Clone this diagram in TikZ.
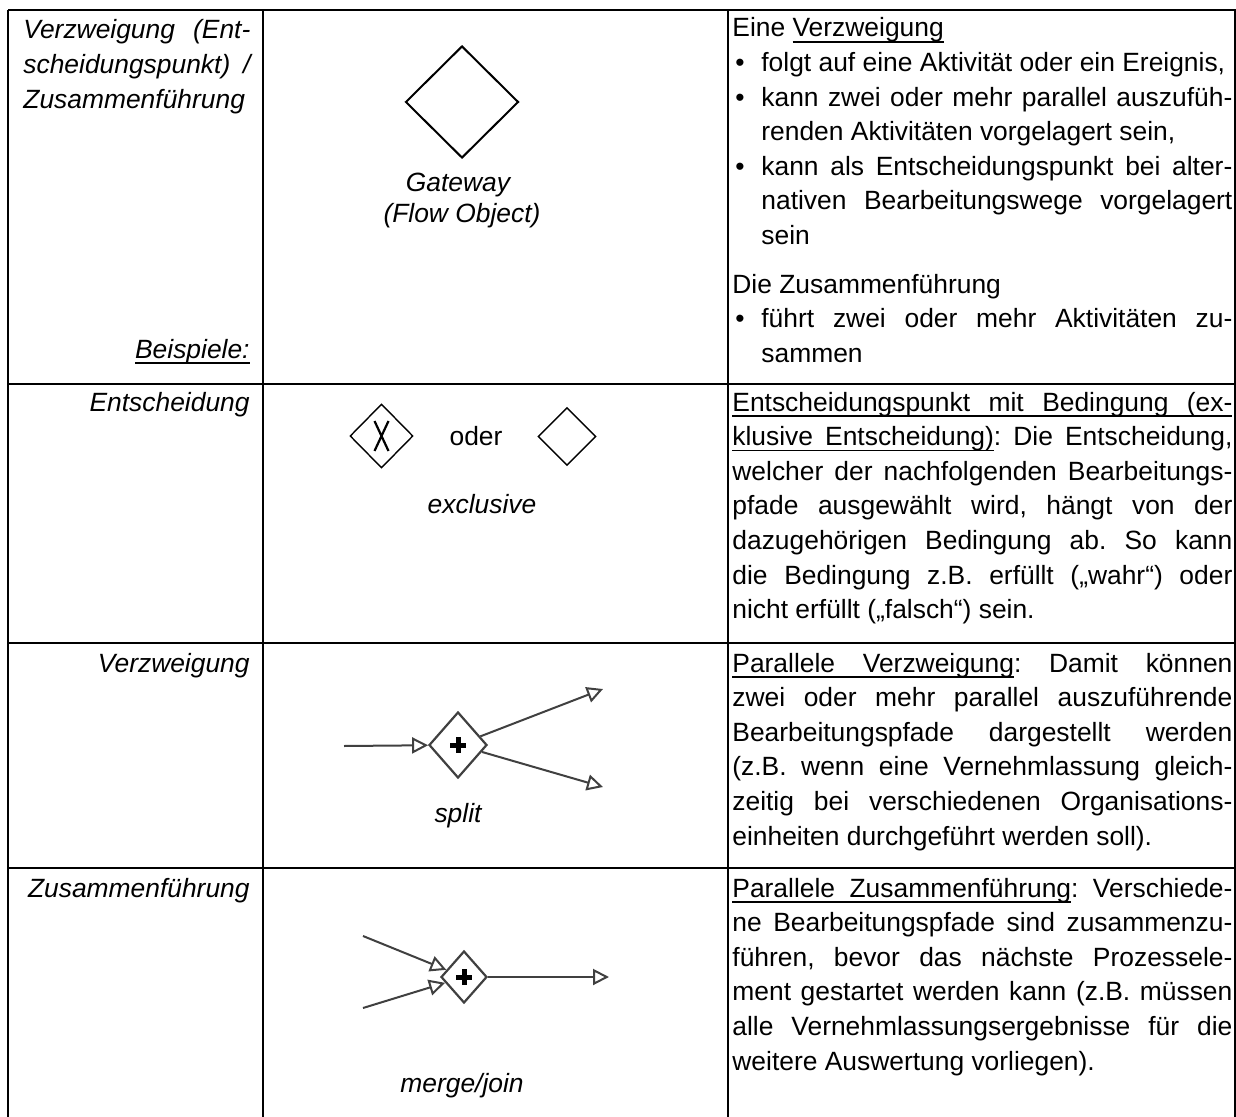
\documentclass[tikz,border=0pt]{standalone}
\usepackage{fontspec}
\setmainfont{Liberation Sans}
\usetikzlibrary{shapes.geometric,arrows.meta}
\frenchspacing
\hyphenpenalty=10000
\exhyphenpenalty=10000
% underlined word and underlined (stretchable) space
\newsavebox\ulbox
\newcommand\ulw[1]{\sbox\ulbox{#1}\rlap{\vrule height -2.2pt depth 2.85pt width \wd\ulbox}\usebox\ulbox}
\newcommand\uls{\leaders\hrule height -2.2pt depth 2.85pt\hskip\fontdimen2\font plus\fontdimen3\font minus\fontdimen4\font}
\newcommand\gwitem{\par\hangindent=14.5pt\hangafter=1\noindent\hspace*{1.5pt}\makebox[13pt][l]{\textbullet}}

\begin{document}
\begin{tikzpicture}[x=0.5pt,y=-0.5pt,
    every node/.style={inner sep=0pt,font=\fontsize{13.2}{17.3}\selectfont},
    it/.style={font=\fontsize{13.2}{17.3}\selectfont\itshape},
    cell/.style={anchor=base west,align=justify,text width=250pt},
    grid/.style={line width=0.8pt},
    gw/.style={draw,diamond,line width=0.7pt},
    flow/.style={draw=black!75,line width=1pt,-{Triangle[open,length=8pt,width=8pt]}}]
\useasboundingbox (0,0) rectangle (1236,1117);
% table
\foreach \y in {10,384,643,868}
  \draw[grid] (8,\y) -- (1236,\y);
\foreach \x in {8,263,728,1235}
  \draw[grid] (\x,10) -- (\x,1117);

% left column
\node[it,anchor=base west,align=justify,text width=113.5pt] (kind) at (23,39)
  {Verzweigung (Ent-\linebreak scheidungspunkt) /\linebreak Zusammenführung};
\node[it,anchor=base east] (bsp) at (250,358) {\ulw{Beispiele:}};
\node[it,anchor=base east] (entlbl) at (250,411) {Entscheidung};
\node[it,anchor=base east] (verlbl) at (250,672) {Verzweigung};
\node[it,anchor=base east] (zuslbl) at (250,897) {Zusammenführung};

% middle column
\node[gw,line width=1pt,minimum width=56.5pt,minimum height=56pt] (gate) at (462,102) {};
\node[it,anchor=base] (gatelbl) at (458,192) {Gateway};
\node[it,anchor=base] (flowlbl) at (462,223) {(Flow Object)};

\node[gw,minimum width=31.5pt,minimum height=32pt] (xor) at (381.5,436) {};
\draw[line width=1.1pt] (xor.center) ++(-7,-15) -- ++(14,30) ++(0,-30) -- ++(-14,30);
\node[anchor=base] (oder) at (476,445) {oder};
\node[gw,minimum width=29pt,minimum height=29pt] (xorb) at (567,436.5) {};
\node[it,anchor=base] (xlbl) at (482,513) {exclusive};

\node[gw,draw=black!75,line width=1.1pt,minimum width=29pt,minimum height=33pt] (spl) at (458,745) {};
\draw[line width=2.5pt] (spl.center) ++(-8,0) -- ++(16,0) (spl.center) ++(0,-8) -- ++(0,16);
\coordinate (splin) at (344,746);
\coordinate (splup) at (603,689);
\coordinate (spldn) at (603,787);
\draw[flow] (splin) -- (spl);
\draw[flow] (spl) -- (splup);
\draw[flow] (spl) -- (spldn);
\node[it,anchor=base] (slbl) at (458,822) {split};

\node[gw,draw=black!75,line width=1.1pt,minimum width=23pt,minimum height=26pt] (mrg) at (464,977) {};
\draw[line width=2.5pt] (mrg.center) ++(-8,0) -- ++(16,0) (mrg.center) ++(0,-8) -- ++(0,16);
\coordinate (mrgup) at (363,936);
\coordinate (mrgdn) at (363,1008);
\coordinate (mrgout) at (609,977);
\draw[flow] (mrgup) -- (mrg);
\draw[flow] (mrgdn) -- (mrg);
\draw[flow] (mrg) -- (mrgout);
\node[it,anchor=base] (mlbl) at (462,1092) {merge/join};

% right column
\node[cell] (txtgw) at (732,37) {Eine \ulw{Verzweigung}
  \gwitem folgt auf eine Aktivität oder ein Ereignis,
  \gwitem kann zwei oder mehr parallel auszufüh-\linebreak renden Aktivitäten vorgelagert sein,
  \gwitem kann als Entscheidungspunkt bei alter-\linebreak nativen Bearbeitungswege vorgelagert\linebreak sein
  \par\vspace{7pt}\noindent Die Zusammenführung
  \gwitem führt zwei oder mehr Aktivitäten zu-\linebreak sammen\par};
\node[cell] (txtxor) at (732,411) {\ulw{Entscheidungspunkt}\uls\ulw{mit}\uls\ulw{Bedingung}\uls\ulw{(ex-}\linebreak
  \ulw{klusive}\uls\ulw{Entscheidung)}: Die Entscheidung,\linebreak
  welcher der nachfolgenden Bearbeitungs-\linebreak
  pfade ausgewählt wird, hängt von der\linebreak
  dazugehörigen Bedingung ab. So kann\linebreak
  die Bedingung z.B. erfüllt („wahr“) oder\linebreak
  nicht erfüllt („falsch“) sein.};
\node[cell] (txtspl) at (732,672) {\ulw{Parallele}\uls\ulw{Verzweigung}: Damit können\linebreak
  zwei oder mehr parallel auszuführende\linebreak
  Bearbeitungspfade dargestellt werden\linebreak
  (z.B. wenn eine Vernehmlassung gleich-\linebreak
  zeitig bei verschiedenen Organisations-\linebreak
  einheiten durchgeführt werden soll).};
\node[cell] (txtmrg) at (732,897) {\ulw{Parallele}\uls\ulw{Zusammenführung}: Verschiede-\linebreak
  ne Bearbeitungspfade sind zusammenzu-\linebreak
  führen, bevor das nächste Prozessele-\linebreak
  ment gestartet werden kann (z.B. müssen\linebreak
  alle Vernehmlassungsergebnisse für die\linebreak
  weitere Auswertung vorliegen).};
\end{tikzpicture}
\end{document}
